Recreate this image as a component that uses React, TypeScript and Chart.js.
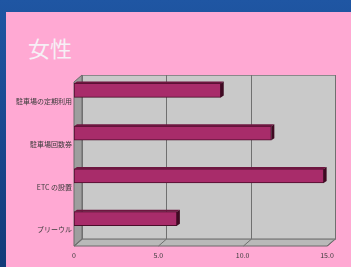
import React, { useEffect, useRef } from "react";
import { Chart, registerables } from "chart.js";

Chart.register(...registerables);

const categories = ["駐車場の定期利用", "駐車場回数券", "ETC の設置", "プリーウル"];
const values = [8.7, 11.7, 14.8, 6.1];
const xTickValues = [0, 5, 10, 15];
const xTickLabels = ["0", "5.0", "10.0", "15.0"];
const titleText = "女性";

const DX = 8;
const DY = 7;

const wallsPlugin = {
  id: "walls3d",
  beforeDatasetsDraw(chart: any) {
    const { ctx, chartArea, scales } = chart;
    const { left, top, bottom } = chartArea;
    const x = scales.x;
    const bl = left + DX;
    const bt = top + 6;
    const br = x.getPixelForValue(15) + DX;
    const bb = bottom - 1;
    const fb = bb + DY;
    ctx.save();
    ctx.fillStyle = "#c9c9c9";
    ctx.fillRect(bl, bt, br - bl, bb - bt);
    ctx.fillStyle = "#9e9e9e";
    ctx.beginPath();
    ctx.moveTo(left, bt + DY);
    ctx.lineTo(bl, bt);
    ctx.lineTo(bl, bb);
    ctx.lineTo(left, fb);
    ctx.closePath();
    ctx.fill();
    ctx.strokeStyle = "#6a6a6a";
    ctx.lineWidth = 1;
    ctx.stroke();
    ctx.fillStyle = "#b9b9b9";
    ctx.beginPath();
    ctx.moveTo(left, fb);
    ctx.lineTo(bl, bb);
    ctx.lineTo(br, bb);
    ctx.lineTo(br - DX, fb);
    ctx.closePath();
    ctx.fill();
    ctx.stroke();
    ctx.strokeStyle = "#8a8a8a";
    ctx.strokeRect(bl + 0.5, bt + 0.5, br - bl, bb - bt);
    ctx.strokeStyle = "#707070";
    xTickValues.forEach((v) => {
      const px = Math.round(x.getPixelForValue(v)) + 0.5;
      ctx.beginPath();
      ctx.moveTo(px + DX, bt);
      ctx.lineTo(px + DX, bb);
      ctx.lineTo(px, fb);
      ctx.stroke();
    });
    ctx.restore();
  },
  afterDatasetsDraw(chart: any) {
    const { ctx } = chart;
    const meta = chart.getDatasetMeta(0);
    ctx.save();
    meta.data.forEach((bar: any) => {
      const { x, y, base, height } = bar.getProps(["x", "y", "base", "height"], true);
      const t = y - height / 2;
      const b = y + height / 2;
      ctx.fillStyle = "#6e1640";
      ctx.beginPath();
      ctx.moveTo(base, t);
      ctx.lineTo(base + 3, t - 2);
      ctx.lineTo(x + 3, t - 2);
      ctx.lineTo(x, t);
      ctx.closePath();
      ctx.fill();
      ctx.fillStyle = "#3f0a22";
      ctx.beginPath();
      ctx.moveTo(x, t);
      ctx.lineTo(x + 3, t - 2);
      ctx.lineTo(x + 3, b - 2);
      ctx.lineTo(x, b);
      ctx.closePath();
      ctx.fill();
    });
    ctx.restore();
  },
};

export default function App() {
  const canvasRef = useRef<HTMLCanvasElement | null>(null);

  useEffect(() => {
    const canvas = canvasRef.current;
    if (!canvas) return;
    const chart = new Chart(canvas, {
      type: "bar",
      data: {
        labels: categories,
        datasets: [
          {
            data: values,
            backgroundColor: "#a82c6a",
            borderColor: "#4a0d2a",
            borderWidth: 1,
            borderSkipped: false,
            barThickness: 14,
          },
        ],
      },
      options: {
        indexAxis: "y",
        animation: false,
        responsive: false,
        maintainAspectRatio: false,
        layout: { padding: { left: 0, right: 24, top: 69, bottom: 0 } },
        plugins: {
          legend: { display: false },
          tooltip: { enabled: false },
          title: { display: false },
        },
        scales: {
          x: {
            type: "linear",
            min: 0,
            max: 15,
            afterBuildTicks: (scale: any) => {
              scale.ticks = xTickValues.map((v) => ({ value: v }));
            },
            afterFit: (scale: any) => {
              scale.height = 27;
            },
            ticks: {
              padding: 11,
              color: "#3a3a3a",
              font: { family: "'Noto Sans CJK JP'", size: 7 },
              callback: (_v: any, i: number) => xTickLabels[i],
            },
            grid: { display: false, drawTicks: false },
            border: { display: false },
          },
          y: {
            type: "category",
            afterFit: (scale: any) => {
              scale.width = 74;
            },
            ticks: {
              labelOffset: 11,
              padding: 2,
              color: "#3a3a3a",
              font: { family: "'Noto Sans CJK JP'", size: 7 },
              autoSkip: false,
            },
            grid: { display: false, drawTicks: false },
            border: { display: false },
          },
        },
      },
      plugins: [wallsPlugin],
    });
    return () => chart.destroy();
  }, []);

  return (
    <div
      style={{
        position: "fixed",
        left: 0,
        top: 0,
        width: 351,
        height: 267,
        overflow: "hidden",
        background: "linear-gradient(180deg, #1f56a3 0%, #17458a 60%, #123a78 100%)",
      }}
    >
      <div
        style={{
          position: "absolute",
          left: 6,
          top: 12,
          width: 345,
          height: 255,
          background: "#ffa9d3",
        }}
      />
      <div
        style={{
          position: "absolute",
          left: 28,
          top: 34,
          fontFamily: "'Noto Sans CJK JP'",
          fontSize: 22,
          lineHeight: "26px",
          color: "#f6f0f6",
          whiteSpace: "nowrap",
        }}
      >
        {titleText}
      </div>
      <canvas
        ref={canvasRef}
        width={351}
        height={267}
        style={{ position: "absolute", left: 0, top: 0, width: 351, height: 267 }}
      />
    </div>
  );
}
